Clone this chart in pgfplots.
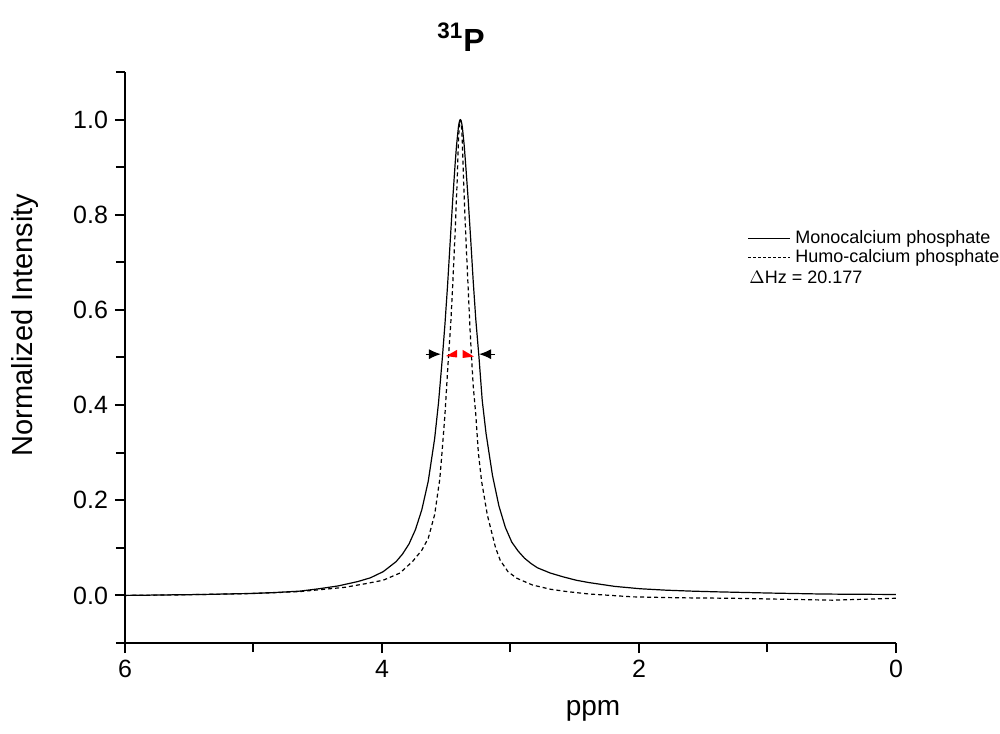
\documentclass[border=0pt]{standalone}
\usepackage{pgfplots}
\pgfplotsset{compat=1.18}
\usepackage{fontspec}
\setmainfont{Liberation Sans}
\usetikzlibrary{arrows.meta}
\begin{document}
\begin{tikzpicture}
\useasboundingbox (-62.5pt,-45pt) rectangle (437.5pt,321.5pt);
\begin{axis}[
  at={(0pt,0pt)}, anchor=south west,
  scale only axis, width=385.5pt, height=285.5pt,
  xmin=0, xmax=6, x dir=reverse, ymin=-0.1, ymax=1.1,
  axis x line*=bottom, axis y line*=left,
  axis line style={line width=1pt,-},
  xtick={0,2,4,6}, minor xtick={1,3,5},
  ytick={0,0.2,0.4,0.6,0.8,1.0},
  minor ytick={-0.1,0.1,0.3,0.5,0.7,0.9,1.1},
  yticklabel style={/pgf/number format/.cd, fixed, fixed zerofill, precision=1},
  tick align=outside, major tick length=5pt, minor tick length=4.5pt,
  every tick/.style={line width=1pt, black},
  tick label style={font=\fontsize{12.5}{15}\selectfont},
  /pgf/number format/assume math mode=true,
  clip=true,
]
\addplot[black, line width=0.6pt, line join=round] coordinates {
(0.00,0.002) (0.39,0.0025) (0.59,0.003) (0.99,0.005) (1.39,0.0075) (1.59,0.009)
(1.79,0.011) (1.99,0.014) (2.19,0.019) (2.39,0.027) (2.49,0.032) (2.59,0.039)
(2.69,0.047) (2.79,0.058) (2.84,0.067) (2.89,0.078) (2.94,0.093) (2.99,0.112) (3.04,0.143)
(3.09,0.188) (3.14,0.252) (3.19,0.34) (3.22,0.41) (3.245,0.50) (3.27,0.58)
(3.29,0.66) (3.31,0.75) (3.33,0.835) (3.35,0.91) (3.36,0.945) (3.37,0.972) (3.375,0.985)
(3.38,0.993) (3.385,0.998) (3.39,1.0) (3.395,0.998)
(3.40,0.993) (3.405,0.985) (3.41,0.972) (3.42,0.945) (3.43,0.91) (3.45,0.83) (3.47,0.74) (3.49,0.65) (3.51,0.57)
(3.53,0.50) (3.56,0.405) (3.59,0.33) (3.64,0.24) (3.69,0.18) (3.74,0.138)
(3.79,0.108) (3.84,0.087) (3.89,0.071) (3.99,0.050) (4.09,0.037) (4.19,0.029)
(4.34,0.020) (4.49,0.014) (4.64,0.009) (4.84,0.006) (5.04,0.004) (5.39,0.002) (6.00,0.000)
};
\addplot[black, line width=0.6pt, line join=round, dash pattern=on 2pt off 1.5pt] coordinates {
(0.00,-0.006) (0.49,-0.010) (0.89,-0.008) (1.27,-0.006) (1.69,-0.005) (2.05,-0.003)
(2.39,0.003) (2.56,0.008) (2.69,0.013) (2.83,0.022) (2.95,0.036) (3.02,0.050)
(3.08,0.074) (3.116,0.10) (3.18,0.169) (3.225,0.24) (3.25,0.30) (3.27,0.38)
(3.29,0.44) (3.303,0.50) (3.315,0.56) (3.33,0.65) (3.347,0.75) (3.365,0.87)
(3.375,0.955) (3.38,0.98) (3.385,0.995) (3.39,1.0) (3.395,0.995) (3.40,0.98) (3.405,0.955) (3.415,0.87) (3.433,0.75) (3.45,0.65)
(3.465,0.57) (3.483,0.50) (3.51,0.38) (3.53,0.31) (3.55,0.245) (3.59,0.17)
(3.64,0.12) (3.69,0.095) (3.76,0.072) (3.86,0.047) (3.99,0.032) (4.12,0.025)
(4.29,0.017) (4.64,0.008) (4.99,0.004) (5.59,0.001) (6.00,0.000)
};
% FWHM arrows
\draw[black, line width=0.6pt, -{Latex[length=6pt,width=5pt]}] (axis cs:3.66,0.507) -- (axis cs:3.541,0.507);
\draw[black, line width=0.6pt, -{Latex[length=6pt,width=5pt]}] (axis cs:3.12,0.507) -- (axis cs:3.245,0.507);
\fill[red] (axis cs:3.416,0.500) -- (axis cs:3.416,0.516) -- (axis cs:3.502,0.503) -- cycle;
\fill[red] (axis cs:3.372,0.499) -- (axis cs:3.372,0.516) -- (axis cs:3.284,0.502) -- cycle;
\end{axis}
% labels
\node[font=\fontsize{14}{16}\selectfont] at (234pt,-34pt) {ppm};
\node[rotate=90, font=\fontsize{14.5}{16}\selectfont] at (-50pt,159pt) {Normalized Intensity};
\node[font=\fontsize{16}{18}\selectfont\bfseries] at (168pt,303pt) {\textsuperscript{31}P};
% legend
\draw[black, line width=0.5pt] (311.5pt,202pt) -- (332.5pt,202pt);
\node[anchor=west, inner sep=0pt, font=\fontsize{9}{11}\selectfont] at (335pt,202pt) {Monocalcium phosphate};
\draw[black, line width=0.5pt, dash pattern=on 1.5pt off 1pt] (311.5pt,192.5pt) -- (332.5pt,192.5pt);
\node[anchor=west, inner sep=0pt, font=\fontsize{9}{11}\selectfont] at (335pt,192.5pt) {Humo-calcium phosphate};
\node[anchor=west, inner sep=0pt, font=\fontsize{9}{11}\selectfont] at (312pt,183pt) {$\Delta$Hz = 20.177};
\end{tikzpicture}
\end{document}
